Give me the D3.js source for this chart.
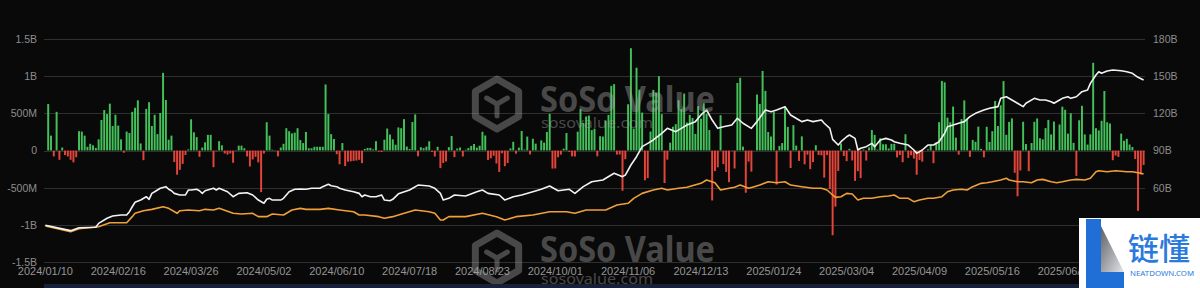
<!DOCTYPE html>
<html>
<head>
<meta charset="utf-8">
<script src="https://cdn.jsdelivr.net/npm/d3@7"></script>
<style>
  html, body { margin: 0; padding: 0; background: #090909; }
  svg { display: block; font-family: "Noto Sans", sans-serif; }
</style>
</head>
<body>
<svg id="chart" width="1200" height="288"></svg>
<script>
// tick labels on the category axis, one every 26 trading days
const xLabels = [
  "2024/01/10", "2024/02/16", "2024/03/26", "2024/05/02", "2024/06/10",
  "2024/07/18", "2024/08/23", "2024/10/01", "2024/11/06", "2024/12/13",
  "2025/01/24", "2025/03/04", "2025/04/09", "2025/05/16", "2025/06/25",
];
const labelEvery = 26;

const leftTicks = [-1500, -1000, -500, 0, 500, 1000, 1500];
const leftTickText = ["-1.5B", "-1B", "-500M", "0", "500M", "1B", "1.5B"];
// 30B and 0B sit under the badge in the picture
const rightTicks = [60, 90, 120, 150, 180];

// daily net inflow, million USD, one value per trading day
const netFlowM = [
  // 2024-01
  0, 625, 200, -80, 520, -125, 40, -60, -80, -125, -160, -90, 260, 255, 200,
  // 2024-02
  50, 90, 70, 35, 150, 410, 545, 490, 630, 330, 480, 335, 150, -30, 255, 235, 520, 575, 675, 95,
  // 2024-03
  -130, 560, 650, 330, 480, 220, 505, 1045, 680, 145, 200, -155, -325, -260, -180, -60, 15, 420, 245, 180,
  // 2024-04
  -85, 40, 110, 210, 210, -225, -10, 125, 70, -40, -55, -40, -165, 5, 65, 65, 30, -80, -215, -120, -85, -160,
  // 2024-05
  -560, -40, 380, 200, 10, 5, -80, 40, 90, 300, 260, 230, 240, 300, 140, 100, 250, 30, 30, 50, 50, 50,
  // 2024-06
  50, 888, 490, 220, 155, -50, -185, 100, -210, -150, -145, -140, -135, -125, -170, 20, 35, 35, 15,
  // 2024-07
  125, -15, -20, 145, 295, 215, 150, 78, 310, 300, 422, 53, 20, 383, 486, -78, 44, 31, 52, 124, -18, -80,
  // 2024-08
  50, -237, -168, -148, 45, 195, -89, 27, 40, -81, 11, 33, 62, 88, 39, 65, 252, 202, -127, -105, -71, -175,
  // 2024-09
  -288, -37, -211, -169, 28, 117, -43, 39, 263, 13, 187, -53, 158, 92, 4, 136, 106, 250, 494, -243,
  // 2024-10
  -242, -91, -55, 25, 235, -18, -79, -81, 253, 556, 371, 458, 470, 274, 294, -79, 192, 188, 402, 479, 870, 893, -55,
  // 2024-11
  -54, -541, -117, 622, 1376, 294, 1114, 818, 510, -401, -371, 255, 816, 773, 1000, 490, -438, -123, 105, 320,
  // 2024-12
  354, 676, 556, 766, 376, 479, 438, 223, 597, 428, 637, 493, 275, -672, -277, -226, 475, -183, -288, -426, 5,
  // 2025-01
  -242, 908, 978, 52, -568, -149, -284, 2, 753, 626, 1070, 802, 248, 188, 520, -458, 60, 100, 588, 318,
  // 2025-02
  -235, 341, 66, -140, 190, -186, -56, -251, -156, 71, -60, -65, -365, -62, -516, -1140, -755, -275, 94,
  // 2025-03
  -74, -143, 22, -134, -409, -278, -371, 13, -135, 41, 275, 209, 11, 165, 84, 84, 27, 89, 90, -93, -60,
  // 2025-04
  -157, 218, -100, -64, -109, -326, -127, -150, 1, 15, 76, -171, 107, 381, 936, 917, 442, 380, 591, 173, -56,
  // 2025-05
  422, 674, 425, -86, 142, 117, 321, 21, -91, 319, 115, 260, 667, 329, 608, 934, 211, 385, 432, -300, -616,
  // 2025-06
  -268, 387, 87, -278, 100, 386, 431, 165, 150, 301, 412, 216, 389, 6, 350, 589, 548, 227, 501, 102,
  // 2025-07
  -342, 407, 601, 217, 80, 218, 1180, 300, 270, 400, 800, 380, 363, -131, -68, -86, 227, 131, 157, 80, 47, -114,
  // 2025-08
  -812, -323, -196,
];

// white line, total net assets (B USD, right axis): [trading day, value]
const totalAssetsB = [
  [0, 29.6], [9, 25.3], [12, 27.7], [18, 28.0], [19, 31.2], [22, 35.3], [24, 37.1], [27, 37.9], [29, 37.9],
  [30, 40.6], [31, 44.6], [32, 48.2], [34, 50.0], [36, 52.7], [37, 50.6], [38, 55.4], [39, 56.7], [41, 59.5],
  [43, 60.8], [44, 58.7], [45, 57.5], [46, 55.4], [48, 54.1], [50, 54.1], [51, 58.1], [52, 58.1], [54, 58.7],
  [55, 57.5], [56, 55.4], [57, 57.5], [60, 59.5], [61, 58.1], [62, 59.5], [65, 56.7], [67, 52.7], [69, 55.4],
  [72, 55.9], [74, 54.1], [76, 50.0], [78, 47.4], [79, 50.6], [80, 51.4], [81, 50.0], [84, 50.0], [85, 51.4],
  [86, 54.1], [87, 56.7], [89, 58.7], [91, 58.9], [93, 58.7], [95, 59.5], [98, 59.5], [99, 60.8], [101, 62.7],
  [102, 61.6], [104, 60.8], [105, 59.5], [107, 58.1], [110, 56.7], [112, 55.4], [113, 52.7], [114, 54.1],
  [116, 52.7], [118, 52.7], [120, 54.1], [121, 50.0], [123, 49.5], [124, 50.6], [126, 55.0], [130, 58.1],
  [133, 62.1], [137, 61.3], [139, 59.5], [141, 55.4], [142, 50.0], [144, 51.4], [146, 54.1], [150, 53.3],
  [154, 56.7], [156, 58.1], [158, 55.4], [162, 54.1], [164, 50.0], [167, 52.7], [170, 54.1], [174, 56.7],
  [177, 58.7], [180, 61.3], [183, 57.5], [187, 58.7], [189, 55.4], [192, 60.8], [195, 64.8], [199, 66.2],
  [203, 71.6], [206, 68.9], [207, 70.2], [209, 78.3], [211, 85.0], [213, 93.1], [215, 95.8], [217, 98.5],
  [220, 103.9], [222, 107.9], [225, 105.2], [227, 107.9], [229, 110.6], [232, 113.3], [234, 118.7],
  [236, 122.7], [238, 114.6], [240, 107.9], [242, 109.2], [245, 110.6], [247, 116.0], [249, 112.0],
  [252, 107.9], [254, 113.3], [257, 122.7], [259, 121.3], [261, 122.7], [264, 125.4], [266, 118.7],
  [269, 114.6], [270, 113.3], [272, 114.6], [274, 113.3], [277, 114.6], [278, 112.0], [280, 107.9],
  [281, 99.0], [283, 94.4], [284, 97.1], [286, 101.1], [287, 102.5], [289, 99.8], [290, 90.4], [291, 91.8],
  [293, 93.1], [295, 95.8], [296, 93.1], [298, 98.5], [300, 99.8], [302, 98.5], [303, 97.1], [305, 95.8],
  [308, 94.4], [310, 90.4], [311, 87.7], [313, 90.4], [315, 94.4], [317, 94.4], [319, 97.1], [321, 103.9],
  [322, 109.2], [324, 110.6], [326, 112.0], [328, 113.3], [330, 117.3], [332, 120.0], [335, 122.7],
  [337, 124.1], [340, 125.4], [341, 132.1], [343, 133.4], [345, 130.8], [347, 128.1], [349, 125.4],
  [350, 128.1], [353, 132.1], [355, 130.8], [357, 130.8], [359, 129.4], [360, 128.1], [362, 130.8],
  [363, 132.1], [365, 133.4], [366, 132.1], [368, 133.4], [370, 137.5], [372, 138.8], [373, 144.2],
  [375, 150.9], [376, 153.6], [377, 152.3], [379, 154.2], [381, 155.0], [384, 154.4], [386, 153.6],
  [388, 152.3], [390, 149.1], [392, 146.9],
];

// orange line, read against the right axis: [trading day, value]
const orangeLineB = [
  [0, 29.1], [9, 24.5], [12, 26.9], [19, 28.5], [23, 31.7], [29, 31.7], [31, 36.6], [32, 39.3], [35, 41.4],
  [38, 42.5], [42, 44.6], [44, 43.3], [47, 39.3], [48, 41.4], [51, 42.0], [55, 41.4], [57, 42.5], [60, 42.0],
  [62, 43.3], [67, 39.3], [70, 38.7], [74, 39.3], [76, 36.6], [79, 36.6], [81, 38.7], [85, 37.9], [88, 42.0],
  [91, 43.3], [93, 42.5], [98, 42.5], [101, 43.3], [105, 42.0], [110, 40.6], [112, 37.9], [114, 37.9],
  [119, 36.6], [121, 35.3], [124, 36.6], [126, 37.9], [132, 42.0], [137, 40.6], [139, 39.3], [141, 33.9],
  [142, 33.9], [144, 36.6], [150, 36.6], [156, 39.3], [161, 36.6], [164, 33.9], [168, 36.6], [174, 37.9],
  [180, 40.6], [186, 40.6], [189, 39.3], [193, 42.0], [196, 42.0], [200, 42.0], [204, 46.0], [208, 47.4],
  [210, 51.4], [213, 55.4], [217, 58.1], [220, 59.5], [222, 58.1], [226, 59.5], [229, 60.3], [234, 63.5],
  [236, 66.2], [239, 64.0], [241, 58.1], [244, 59.5], [246, 60.3], [248, 62.1], [251, 59.5], [253, 60.8],
  [255, 62.1], [258, 64.8], [261, 64.0], [264, 64.8], [266, 62.1], [270, 60.8], [274, 59.5], [277, 59.5],
  [279, 58.1], [281, 54.1], [282, 52.2], [284, 52.7], [286, 55.4], [288, 54.9], [290, 50.0], [292, 51.4],
  [295, 51.4], [298, 52.7], [301, 53.3], [303, 54.1], [305, 51.4], [308, 51.4], [310, 48.7], [312, 50.0],
  [315, 51.4], [317, 51.4], [320, 52.7], [322, 56.7], [324, 58.1], [327, 58.7], [329, 58.1], [331, 60.8],
  [334, 63.5], [336, 64.0], [338, 64.8], [341, 66.2], [343, 67.6], [344, 66.2], [347, 64.8], [349, 64.8],
  [352, 64.0], [354, 66.2], [356, 66.7], [359, 64.8], [361, 64.0], [363, 64.8], [366, 66.2], [368, 66.7],
  [371, 66.2], [373, 67.6], [375, 72.9], [376, 73.7], [379, 72.9], [382, 73.7], [386, 72.9], [388, 72.9],
  [391, 71.6], [392, 71.0],
];

const svg = d3.select("#chart");
const width = 1200;
const height = 288;
const plot = { left: 44, right: 1145, top: 39, bottom: 262 };

svg.append("rect").attr("width", width).attr("height", height).attr("fill", "#090909");

const x = d3
  .scaleBand()
  .domain(d3.range(netFlowM.length))
  .range([plot.left, plot.right])
  .paddingInner(0.3)
  .paddingOuter(0.15);
const xMid = (d) => x(d) + x.bandwidth() / 2;

const yLeft = d3.scaleLinear().domain([-1500, 1500]).range([plot.bottom, plot.top]);
const yRight = d3.scaleLinear().domain([0, 180]).range([plot.bottom, plot.top]);

// horizontal grid
svg
  .append("g")
  .selectAll("line")
  .data(leftTicks)
  .enter()
  .append("line")
  .attr("x1", plot.left)
  .attr("x2", plot.right)
  .attr("y1", (d) => Math.round(yLeft(d)) + 0.5)
  .attr("y2", (d) => Math.round(yLeft(d)) + 0.5)
  .attr("stroke", "#2f2f2f")
  .attr("stroke-width", 1);

// axes
const styleAxis = (g) => {
  g.select(".domain").remove();
  g.selectAll("text").attr("fill", "#8d8d8d").attr("font-size", 10.5);
};

svg
  .append("g")
  .attr("transform", `translate(${plot.left},0)`)
  .call(
    d3.axisLeft(yLeft)
      .tickValues(leftTicks)
      .tickFormat((d, i) => leftTickText[i])
      .tickSize(0)
      .tickPadding(7)
  )
  .call(styleAxis);

svg
  .append("g")
  .attr("transform", `translate(${plot.right},0)`)
  .call(
    d3.axisRight(yRight)
      .tickValues(rightTicks)
      .tickFormat((d) => `${d}B`)
      .tickSize(0)
      .tickPadding(8)
  )
  .call(styleAxis);

svg
  .append("g")
  .attr("transform", `translate(0,${plot.bottom})`)
  .call(
    d3.axisBottom(x)
      .tickValues(xLabels.map((d, i) => i * labelEvery))
      .tickFormat((d) => xLabels[d / labelEvery])
      .tickSize(0)
      .tickPadding(5)
  )
  .call(styleAxis)
  .call((g) => g.selectAll("text").attr("font-size", 11).attr("fill", "#959595"));

// daily flow bars
svg
  .append("g")
  .selectAll("rect")
  .data(netFlowM)
  .enter()
  .append("rect")
  .attr("x", (d, i) => x(i))
  .attr("width", x.bandwidth())
  .attr("y", (d) => yLeft(Math.max(0, d)))
  .attr("height", (d) => Math.abs(yLeft(d) - yLeft(0)))
  .attr("fill", (d) => (d >= 0 ? "#43c05a" : "#e4453b"));

// lines on the right axis
const line = d3
  .line()
  .x((d) => xMid(d[0]))
  .y((d) => yRight(d[1]));

svg
  .append("path")
  .datum(orangeLineB)
  .attr("d", line)
  .attr("fill", "none")
  .attr("stroke", "#f0a038")
  .attr("stroke-width", 1.6)
  .attr("stroke-linejoin", "round");

svg
  .append("path")
  .datum(totalAssetsB)
  .attr("d", line)
  .attr("fill", "none")
  .attr("stroke", "#f2f2f2")
  .attr("stroke-width", 1.6)
  .attr("stroke-linejoin", "round");

// SoSoValue watermarks
function watermark(cx, cy, baseline, subBaseline) {
  const g = svg.append("g").attr("opacity", 0.4).attr("fill", "#a8a8a8").attr("stroke", "#a8a8a8");
  const r = 25;
  const hex = d3.range(6).map((k) => {
    const a = -Math.PI / 2 + (k * Math.PI) / 3;
    return [cx + r * Math.cos(a), cy + r * Math.sin(a)];
  });
  g.append("path")
    .attr("d", d3.line()(hex) + "Z")
    .attr("fill", "none")
    .attr("stroke-width", 7)
    .attr("stroke-linejoin", "round");
  // inner cube edges
  const inner = d3.range(3).map((k) => {
    const a = -Math.PI / 2 + (k * 2 * Math.PI) / 3 + Math.PI / 3;
    return [cx + 12 * Math.cos(a), cy + 12 * Math.sin(a)];
  });
  inner.forEach((p) => {
    g.append("line")
      .attr("x1", cx).attr("y1", cy)
      .attr("x2", p[0]).attr("y2", p[1])
      .attr("stroke-width", 5)
      .attr("stroke-linecap", "round");
  });
  g.append("text")
    .attr("x", 540)
    .attr("y", baseline)
    .attr("stroke", "none")
    .attr("font-size", 35)
    .attr("font-weight", 700)
    .attr("textLength", 175)
    .attr("lengthAdjust", "spacingAndGlyphs")
    .text("SoSo Value");
  g.append("text")
    .attr("x", 541)
    .attr("y", subBaseline)
    .attr("stroke", "none")
    .attr("font-size", 15)
    .attr("textLength", 112)
    .attr("lengthAdjust", "spacingAndGlyphs")
    .text("sosovalue.com");
}
watermark(497, 104, 112, 128);
watermark(497, 258, 262, 284);

// slider strip at the bottom
svg.append("rect").attr("x", plot.left).attr("y", 284).attr("width", width - plot.left).attr("height", 4).attr("fill", "#18213a");

// NEATDOWN badge
const defs = svg.append("defs");
const grad = defs.append("linearGradient").attr("id", "wedge").attr("x1", 0).attr("y1", 0).attr("x2", 1).attr("y2", 1);
grad.append("stop").attr("offset", "0%").attr("stop-color", "#5d6066");
grad.append("stop").attr("offset", "100%").attr("stop-color", "#e2e4e8");

const badge = svg.append("g");
badge.append("rect").attr("x", 1079).attr("y", 218).attr("width", 121).attr("height", 70).attr("fill", "#ffffff");
badge
  .append("path")
  .attr("d", d3.line()([[1101, 226], [1124, 272], [1101, 272]]) + "Z")
  .attr("fill", "url(#wedge)");
badge
  .append("path")
  .attr("d", d3.line()([[1086, 219], [1101, 219], [1101, 272], [1124, 272], [1124, 288], [1086, 288]]) + "Z")
  .attr("fill", "#1f6fd6");
badge
  .append("text")
  .attr("x", 1128)
  .attr("y", 260)
  .attr("font-family", "'Noto Sans CJK SC', sans-serif")
  .attr("font-size", 31)
  .attr("font-weight", 500)
  .attr("fill", "#2a7ade")
  .text("链懂");
badge
  .append("text")
  .attr("x", 1130)
  .attr("y", 276)
  .attr("font-size", 7.5)
  .attr("textLength", 64)
  .attr("lengthAdjust", "spacingAndGlyphs")
  .attr("fill", "#2a7ade")
  .text("NEATDOWN.COM");
</script>
</body>
</html>
